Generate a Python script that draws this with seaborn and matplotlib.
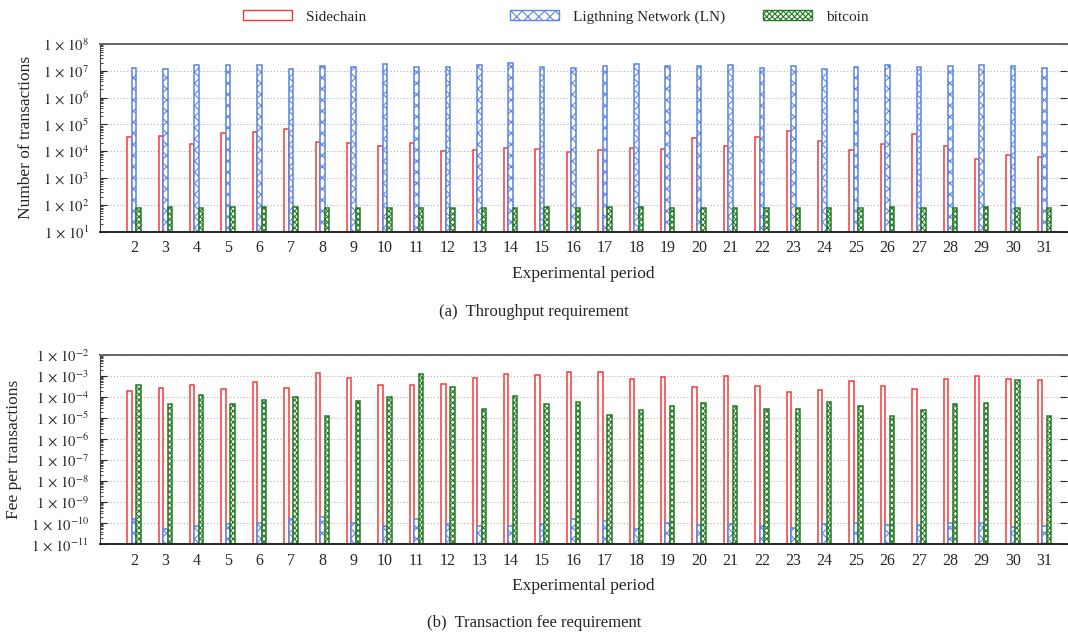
import numpy as np
import pandas as pd
import seaborn as sns
import matplotlib.pyplot as plt
from matplotlib.patches import Patch
from matplotlib.ticker import LogLocator, NullFormatter, FuncFormatter

# Data
periods = [str(p) for p in range(2, 32)]
methods = ['Sidechain', 'Ligthning Network (LN)', 'bitcoin']

tx_sidechain = [3.3e4, 3.7e4, 1.8e4, 4.6e4, 5.2e4, 6.5e4, 2.2e4, 2.1e4, 1.5e4, 2.1e4,
                1.05e4, 1.1e4, 1.3e4, 1.2e4, 9.5e3, 1.15e4, 1.35e4, 1.25e4, 3.0e4, 1.5e4,
                3.3e4, 5.8e4, 2.5e4, 1.1e4, 1.8e4, 4.3e4, 1.5e4, 5.0e3, 7.0e3, 6.3e3]
tx_ln = [1.3e7, 1.2e7, 1.6e7, 1.65e7, 1.6e7, 1.2e7, 1.5e7, 1.4e7, 1.8e7, 1.35e7,
         1.4e7, 1.65e7, 1.85e7, 1.4e7, 1.3e7, 1.45e7, 1.7e7, 1.5e7, 1.5e7, 1.65e7,
         1.3e7, 1.45e7, 1.2e7, 1.4e7, 1.65e7, 1.4e7, 1.5e7, 1.6e7, 1.45e7, 1.3e7]
tx_bitcoin = [80, 84, 79, 82, 82, 81, 80, 79, 80, 79,
              80, 80, 80, 84, 80, 81, 82, 80, 79, 80,
              80, 80, 79, 80, 82, 80, 80, 82, 80, 79]

fee_sidechain = [1.9e-4, 2.7e-4, 3.7e-4, 2.4e-4, 5.2e-4, 2.7e-4, 1.4e-3, 8.0e-4, 3.8e-4, 3.8e-4,
                 4.2e-4, 8.0e-4, 1.25e-3, 1.1e-3, 1.5e-3, 1.55e-3, 7.0e-4, 9.0e-4, 3.0e-4, 1.0e-3,
                 3.5e-4, 1.7e-4, 2.1e-4, 5.5e-4, 3.5e-4, 2.4e-4, 7.5e-4, 1.0e-3, 7.0e-4, 6.8e-4]
fee_ln = [1.6e-10, 5.5e-11, 7.5e-11, 9.0e-11, 1.05e-10, 1.5e-10, 2.0e-10, 1.05e-10, 7.5e-11, 1.6e-10,
          9.0e-11, 7.0e-11, 7.5e-11, 9.5e-11, 1.6e-10, 1.3e-10, 5.5e-11, 1.05e-10, 8.5e-11, 9.5e-11,
          7.5e-11, 6.0e-11, 9.5e-11, 1.05e-10, 8.0e-11, 8.5e-11, 1.0e-10, 1.0e-10, 6.5e-11, 7.5e-11]
fee_bitcoin = [3.8e-4, 4.6e-5, 1.25e-4, 4.8e-5, 7.5e-5, 1.05e-4, 1.2e-5, 6.5e-5, 1.0e-4, 1.2e-3,
               3.0e-4, 2.8e-5, 1.1e-4, 4.6e-5, 6.0e-5, 1.4e-5, 2.5e-5, 3.7e-5, 5.0e-5, 3.8e-5,
               2.7e-5, 2.8e-5, 5.5e-5, 3.8e-5, 1.3e-5, 2.5e-5, 4.8e-5, 5.0e-5, 6.5e-4, 1.3e-5]

colors = ['#f23a3a', '#5b84e4', '#247a24']
hatches = ['', 'xxx', 'xxxxxx']

sns.set_style('ticks')
plt.rcParams['font.family'] = ['Liberation Serif', 'DejaVu Serif']
plt.rcParams['mathtext.fontset'] = 'stix'
plt.rcParams['hatch.linewidth'] = 0.8


def long_table(a, b, c):
    df = pd.DataFrame({'period': periods, methods[0]: a, methods[1]: b, methods[2]: c})
    return df.melt(id_vars='period', var_name='method', value_name='value')


def draw_panel(ax, df, ylo, yhi, ylabel):
    sns.barplot(data=df, x='period', y='value', hue='method', order=periods,
                hue_order=methods, palette=colors, width=0.43, legend=False, ax=ax)
    for cont, col, h in zip(ax.containers, colors, hatches):
        for p in cont.patches:
            p.set_facecolor('white')
            p.set_edgecolor(col)
            p.set_hatch(h)
            p.set_linewidth(1.1)
    ax.set_yscale('log')
    ax.set_ylim(ylo, yhi)
    ax.set_xlim(-1.08, 29.7)
    ax.yaxis.set_major_locator(LogLocator(base=10, numticks=20))
    ax.yaxis.set_minor_locator(LogLocator(base=10, subs=np.arange(2, 10), numticks=100))
    ax.yaxis.set_minor_formatter(NullFormatter())
    ax.yaxis.set_major_formatter(FuncFormatter(lambda v, pos: r'$1\,\times\,10^{%d}$' % round(np.log10(v))))
    ax.yaxis.grid(True, which='major', linestyle=(0, (1, 2)), color='#b0b0b0', linewidth=0.8)
    ax.set_axisbelow(True)
    ax.tick_params(axis='y', which='major', direction='in', right=True, length=5,
                   labelsize=10.5, pad=8)
    ax.tick_params(axis='y', which='minor', direction='in', right=False, length=2.5)
    ax.tick_params(axis='x', length=0, labelsize=11.5, pad=6)
    ax.spines['right'].set_visible(False)
    ax.spines['top'].set_color('#666666')
    ax.spines['top'].set_linewidth(1.4)
    ax.spines['left'].set_color('#444444')
    ax.spines['bottom'].set_linewidth(1.4)
    ax.set_xlabel('Experimental period', fontsize=12.5, labelpad=7)
    ax.set_ylabel(ylabel, fontsize=12.5, labelpad=6)


fig = plt.figure(figsize=(10.68, 6.35), dpi=100)
ax1 = fig.add_axes([0.0936, 0.635, 0.905, 0.296])
ax2 = fig.add_axes([0.0936, 0.143, 0.905, 0.298])

draw_panel(ax1, long_table(tx_sidechain, tx_ln, tx_bitcoin), 1e1, 1e8, 'Number of transactions')
draw_panel(ax2, long_table(fee_sidechain, fee_ln, fee_bitcoin), 1e-11, 1e-2, 'Fee per transactions')

fig.text(0.5, 1 - 312 / 635, '(a)  Throughput requirement', ha='center', va='center', fontsize=12)
fig.text(0.5, 1 - 623 / 635, '(b)  Transaction fee requirement', ha='center', va='center', fontsize=12)

# legend entries placed across the top like the original
legend_x = [0.2275, 0.4775, 0.7144]
for name, col, h, x in zip(methods, colors, hatches, legend_x):
    handle = Patch(facecolor='white', edgecolor=col, hatch=h, linewidth=1.0)
    fig.legend(handles=[handle], labels=[name], loc='center left',
               bbox_to_anchor=(x, 1 - 17 / 635), frameon=False, fontsize=11,
               handlelength=3.2, handleheight=0.6, handletextpad=0.9,
               borderaxespad=0, borderpad=0)

fig.savefig('out.png', dpi=100)
